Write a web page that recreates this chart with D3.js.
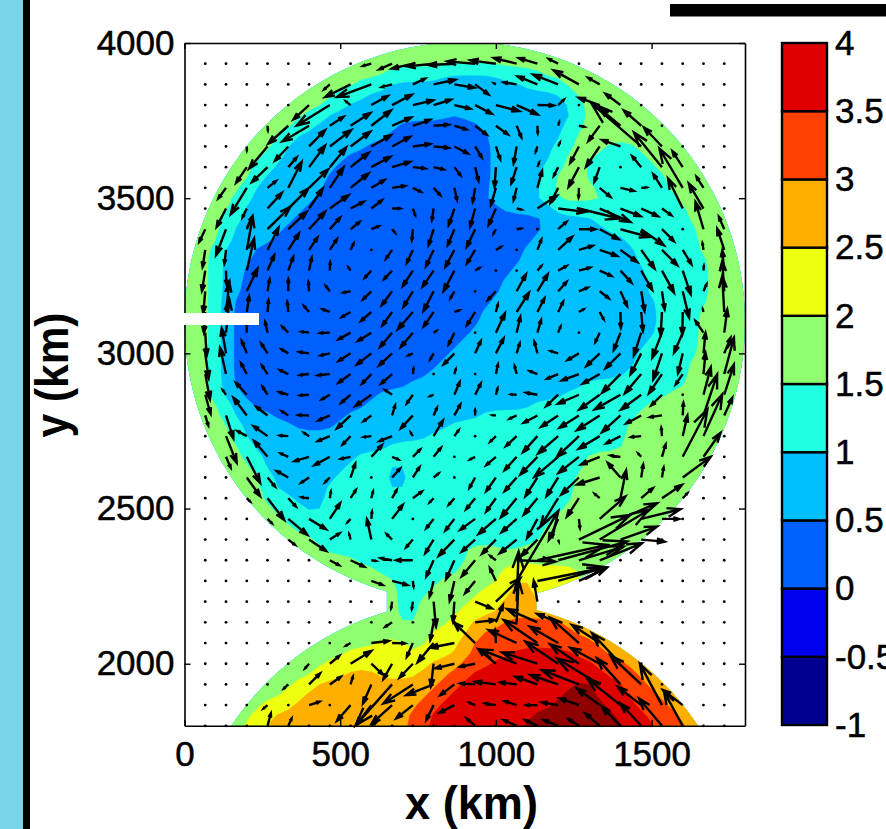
<!DOCTYPE html>
<html>
<head>
<meta charset="utf-8">
<script src="https://cdn.jsdelivr.net/npm/d3@7"></script>
<style>
  html, body { margin: 0; padding: 0; background: #fff; overflow: hidden; }
  text { font-family: "Liberation Sans", Arial, sans-serif; fill: #000; }
</style>
</head>
<body>
<div id="chart"></div>
<script>
const width = 886, height = 829;

// contour levels and their colours (last one is above the top level)
const levels = [-1, -0.5, 0, 0.5, 1, 1.5, 2, 2.5, 3, 3.5, 4];
const levelColors = ["#00008f", "#0000ef", "#0060ff", "#00bfff", "#20ffdf", "#8fff70", "#efff10", "#ffaf00", "#ff4000", "#df0000", "#8f0000"];
const xTicks = [0, 500, 1000, 1500];
const yTicks = [2000, 2500, 3000, 3500, 4000];

// basin: two circles [x km, y km, radius km] joined by a strait [x0, x1, y0, y1]
const basinCircles = [[900, 3100, 900], [900, 1300, 900]];
const strait = [650, 1130, 2100, 2300];

// band index per row (33.3 km spacing), as runs: band, end column, band, end column ... last band
// band b means a value of 0.25 + 0.5 * b
const bandRuns = [
  [3], [3], [3],
  [3,20,2,25,1,31,2,35,3],
  [3,17,2,20,1,33,2,37,3],
  [3,15,2,18,1,37,2,38,3],
  [3,14,2,16,1,38,2,39,3],
  [3,12,2,14,1,26,0,27,1,38,2,39,3],
  [3,11,2,13,1,21,0,29,1,37,2,39,3],
  [3,10,2,11,1,20,0,30,1,37,2,38,3],
  [3,9,2,10,1,18,0,30,1,36,2,38,3,41,2,44,3],
  [3,8,2,10,1,16,0,30,1,36,2,37,3,40,2,45,3],
  [3,7,2,9,1,15,0,30,1,35,2,37,3,39,2,46,3],
  [3,7,2,8,1,14,0,30,1,35,2,36,3,39,2,47,3],
  [3,6,2,7,1,14,0,30,1,35,2,36,3,40,2,47,3],
  [3,5,2,7,1,13,0,29,1,34,2,36,3,42,2,48,3],
  [3,5,2,6,1,12,0,31,1,36,2,49,3],
  [3,4,2,6,1,11,0,36,1,40,2,49,3],
  [3,4,2,5,1,10,0,35,1,41,2,50,3],
  [3,4,2,5,1,9,0,34,1,43,2,50,3],
  [3,3,2,4,1,7,0,33,1,44,2,50,3],
  [3,3,2,4,1,7,0,33,1,44,2,51,3],
  [3,3,2,4,1,6,0,32,1,45,2,51,3],
  [3,3,2,4,1,6,0,31,1,45,2,51,3],
  [3,3,2,4,1,6,0,31,1,45,2,51,3],
  [3,3,2,4,1,5,0,30,1,46,2,51,3],
  [3,3,2,4,1,5,0,29,1,46,2,50,3],
  [3,3,2,4,1,5,0,29,1,46,2,50,3],
  [3,3,2,4,1,5,0,28,1,46,2,50,3],
  [3,3,2,4,1,5,0,27,1,45,2,50,3],
  [3,3,2,4,1,5,0,26,1,44,2,50,3],
  [3,3,2,4,1,5,0,25,1,44,2,49,3],
  [3,3,2,4,1,5,0,24,1,43,2,49,3],
  [3,3,2,4,1,5,0,22,1,39,2,49,3],
  [3,3,2,4,1,6,0,19,1,37,2,47,3],
  [3,4,2,5,1,7,0,18,1,34,2,45,3],
  [3,4,2,5,1,9,0,16,1,29,2,44,3],
  [3,5,2,6,1,11,0,15,1,26,2,43,3],
  [3,5,2,6,1,24,2,43,3],
  [3,6,2,7,1,20,2,43,3],
  [3,6,2,8,1,17,2,39,3],
  [3,7,2,8,1,16,2,20,1,22,2,39,3],
  [3,8,2,9,1,15,2,20,1,22,2,38,3],
  [3,8,2,9,1,14,2,20,1,22,2,38,3],
  [3,8,2,11,1,14,2,38,3],
  [3,9,2,12,1,14,2,37,3],
  [3,10,2,36,3],
  [3,11,2,35,3],
  [3,13,2,35,3],
  [3,14,2,27,3,31,2,33,3],
  [3,17,2,28,3,32,4,33,3],
  [3,19,2,27,3,31,4,39,3],
  [3,21,2,25,3,31,4,32,5,34,4,38,3],
  [3,21,2,24,3,29,4,32,5,34,4],
  [3,21,2,23,3,28,4,31,5,34,4],
  [3,21,2,23,3,27,4,31,5],
  [3,21,2,23,3,26,4,28,5,31,6,37,5],
  [3,24,4,28,5,29,6,38,5],
  [3,19,4,22,3,24,4,27,5,28,6,40,5],
  [3,16,4,22,3,23,4,27,5,28,6,32,7,38,6,41,5],
  [3,14,4,24,5,27,6,30,7,40,6,43,5],
  [3,13,4,16,5,19,4,23,5,26,6,28,7,41,6,44,5],
  [3,11,4,13,5,25,6,27,7,38,8,40,7,43,6,45,5],
  [3,10,4,12,5,24,6,26,7,37,8,40,7,43,6,46,5],
  [3,8,4,11,5,23,6,25,7,36,8,41,7,44,6,47,5],
  [3,7,4,9,5,22,6,24,7,34,8,42,7,45,6,48,5],
  [3,6,4,8,5,22,6,24,7,33,8,43,7,46,6,49,5]
];
const bandCols = 55;
const bandStep = 100 / 3;

// velocity per row of the 66.7 km grid, as triplets: column, east, south.
// any grid point not listed has no flow and shows as a dot
const flowRows = [
  [8,-25,7, 9,-39,17, 10,-63,15, 11,-80,8, 12,-77,4, 13,-84,-7, 14,-77,-10, 15,-69,-17, 16,-56,-17, 17,-28,-14],
  [6,-17,15, 7,-76,38, 8,-103,38, 9,-31,8, 10,37,-17, 11,65,-14, 12,60,10, 13,40,30, 14,-5,-3, 15,-39,-6, 16,-59,-24, 17,-75,-29, 18,-76,-42, 19,-35,-20],
  [5,-47,43, 6,-99,61, 7,-14,-11, 8,49,-27, 9,59,-31, 10,60,-14, 11,52,-16, 12,48,11, 13,50,26, 14,70,18, 15,63,28, 16,49,1, 17,17,-16, 19,-63,-22, 20,-45,-34],
  [3,1,14, 4,-60,54, 5,-80,47, 6,41,-27, 7,59,-38, 8,59,-46, 9,57,-25, 10,52,-18, 11,45,-3, 12,36,11, 13,35,27, 14,36,26, 15,14,34, 16,1,22, 17,3,-11, 18,16,3, 19,-34,46, 20,-60,-50, 21,-52,-46],
  [2,0,12, 3,-55,66, 4,-40,43, 5,48,-49, 6,64,-49, 7,59,-44, 8,59,-34, 9,54,-29, 10,52,-7, 11,45,4, 12,40,21, 13,20,33, 14,13,39, 15,-9,51, 16,-5,16, 17,5,-11, 18,-26,49, 19,-41,61, 20,-55,-19, 21,-150,-130, 22,-54,-57],
  [2,-32,47, 3,-47,45, 4,25,-29, 5,48,-65, 6,49,-59, 7,54,-43, 8,57,-31, 9,54,-16, 10,37,4, 11,30,7, 12,18,24, 13,10,41, 14,-4,59, 15,-16,49, 16,5,-13, 17,-13,26, 18,-31,59, 19,-16,44, 21,-27,-33, 22,-84,-104, 23,-31,-48],
  [1,-23,32, 2,-48,79, 3,25,-20, 4,40,-78, 5,57,-55, 6,41,-61, 7,54,-43, 8,39,-23, 9,39,-6, 10,24,12, 11,20,22, 12,8,37, 13,-7,42, 14,-15,52, 15,-9,37, 16,14,-51, 17,-23,45, 18,-1,29, 19,32,27, 20,40,9, 21,16,-1, 22,-26,-41, 23,-70,-118, 24,-21,-33],
  [1,-28,55, 2,-13,27, 3,43,-47, 4,60,-60, 5,41,-60, 6,56,-40, 7,39,-20, 8,32,-25, 9,24,0, 10,7,20, 11,-5,35, 12,-17,50, 13,-15,55, 14,-22,50, 15,14,3, 16,58,-38, 17,82,10, 18,120,30, 19,92,40, 20,60,23, 21,50,23, 22,28,20, 23,-44,-90, 24,-44,-75],
  [0,-18,38, 1,-30,78, 2,15,-37, 3,68,-67, 4,55,-52, 5,48,-52, 6,31,-35, 7,27,-22, 8,22,-9, 9,9,11, 10,-3,33, 11,-15,48, 12,-20,48, 13,-25,53, 14,-7,13, 15,13,-2, 17,25,-22, 18,49,0, 19,57,30, 20,85,23, 21,68,48, 22,36,36, 24,-24,-82, 25,-16,-37],
  [0,-8,51, 1,-5,41, 2,18,-99, 3,33,-67, 4,32,-49, 5,25,-37, 6,21,-32, 7,9,-19, 9,-18,26, 10,-18,39, 11,-23,49, 12,-27,51, 13,-25,41, 14,15,-9, 16,12,-31, 17,42,-39, 18,41,-12, 19,52,18, 20,50,36, 21,40,56, 22,46,46, 23,26,43, 24,-3,-20, 25,-21,-64],
  [0,-10,61, 1,1,40, 2,22,-96, 3,20,-46, 4,15,-41, 5,8,-39, 6,1,-25, 7,-6,-9, 8,-20,22, 9,-24,26, 10,-30,46, 11,-33,48, 12,-32,61, 13,13,-8, 16,12,-14, 17,25,-14, 18,34,-9, 19,35,16, 20,33,36, 21,33,58, 22,36,66, 23,24,71, 24,1,-14, 25,-6,-60],
  [0,-6,64, 1,10,-30, 2,32,-68, 3,6,-36, 4,0,-36, 5,-2,-28, 6,-12,-16, 7,-21,4, 8,-25,24, 9,-31,42, 10,-28,46, 11,-30,59, 12,-12,21, 14,-24,26, 15,28,-51, 16,31,-51, 17,25,-28, 18,26,-11, 19,27,21, 20,20,44, 21,10,59, 22,8,54, 23,19,79, 24,9,-21, 25,-6,-90],
  [0,-4,62, 1,10,-88, 2,7,-48, 3,3,-35, 4,-3,-30, 5,-15,-18, 6,-21,-8, 7,-26,15, 8,-31,27, 9,-29,40, 10,-45,52, 11,-30,44, 12,15,-5, 13,-25,40, 14,6,-23, 15,37,-58, 16,21,-41, 17,15,-31, 18,14,-8, 19,12,22, 20,1,47, 21,5,57, 22,-4,70, 23,-1,67, 24,-2,-8, 25,-6,-108],
  [0,4,70, 1,10,-100, 2,0,-30, 3,-7,-32, 4,-18,-18, 5,-22,-3, 6,-29,1, 7,-36,20, 8,-40,25, 9,-36,43, 10,-36,43, 11,8,-5, 12,-17,35, 14,27,-58, 15,11,-48, 16,11,-38, 17,7,-18, 19,-13,28, 20,-20,52, 21,-22,68, 22,-29,75, 23,-26,60, 24,-24,-35, 25,9,-70],
  [0,10,75, 1,-13,-75, 2,-15,-37, 3,-19,-30, 4,-20,-12, 5,-29,-4, 6,-27,6, 7,-36,23, 8,-43,33, 9,-39,36, 10,-13,6, 11,-10,18, 12,-32,33, 13,17,-37, 14,23,-45, 15,9,-30, 16,-9,-35, 17,-23,-7, 18,-34,20, 19,-40,38, 20,-45,45, 21,-32,63, 22,-26,78, 23,-14,60, 24,6,-62, 25,19,-47],
  [0,14,76, 1,-18,-79, 2,-17,-32, 3,-17,-26, 4,-25,-12, 5,-27,3, 6,-36,4, 7,-36,26, 8,-28,29, 9,-33,29, 10,2,-16, 12,4,-14, 14,6,-29, 15,-6,-24, 16,-23,-9, 17,-33,14, 18,-51,19, 19,-51,29, 20,-55,56, 21,-49,58, 22,-39,58, 23,-21,31, 24,6,-64, 25,29,-109],
  [0,16,57, 1,-10,-14, 2,-33,-36, 3,-15,-24, 4,-27,-8, 5,-27,2, 6,-24,14, 7,-28,24, 8,-48,34, 9,-21,-14, 10,-18,26, 11,-10,4, 12,16,-38, 13,17,-34, 14,5,-19, 15,-17,-1, 16,-34,-6, 17,-36,34, 18,-63,27, 19,-61,44, 20,-77,44, 21,-60,44, 22,-32,32, 24,22,-83, 25,29,-91],
  [0,9,30, 1,22,69, 2,-40,-53, 3,-34,-26, 4,-20,-13, 5,-32,-1, 6,-34,15, 7,-41,39, 8,-23,17, 9,9,-30, 10,-36,39, 11,10,-23, 12,18,-33, 13,0,-16, 14,-10,-1, 15,-21,10, 16,-41,22, 17,-51,34, 18,-58,37, 19,-68,44, 20,-55,50, 21,-45,24, 22,-36,5, 23,2,-38, 24,41,-123, 25,24,-53],
  [1,32,80, 2,-28,-15, 3,-42,-30, 4,-25,-2, 5,-15,-10, 6,-36,15, 7,-24,25, 8,-23,3, 9,-38,15, 10,-6,-10, 11,28,-47, 12,13,-18, 14,-17,17, 15,-32,30, 16,-43,48, 17,-60,52, 18,-66,62, 19,-63,38, 20,-43,22, 21,-30,3, 22,-2,-25, 23,14,-62, 24,56,-125],
  [1,14,33, 2,40,78, 3,-40,-47, 4,-23,-10, 5,-44,13, 6,-46,25, 7,-29,6, 8,32,-35, 9,19,8, 10,22,-22, 11,22,-27, 13,-15,8, 14,-29,25, 15,-36,40, 16,-51,53, 17,-71,60, 18,-61,48, 19,-56,23, 20,-30,-4, 21,-9,-10, 22,11,-37, 23,74,-142, 24,51,-72],
  [2,40,56, 3,23,28, 4,-35,-19, 5,-24,16, 6,-14,14, 7,14,-42, 9,24,-27, 10,20,-31, 11,15,-12, 13,-17,31, 14,-29,41, 15,-36,41, 16,-36,56, 17,-35,56, 18,-53,51, 19,-68,21, 20,-38,-44, 21,6,-39, 22,5,-30, 23,84,-62],
  [2,10,10, 3,50,65, 4,23,25, 5,-22,-3, 6,3,-20, 7,16,-25, 8,5,-20, 9,14,-25, 10,27,-20, 11,-12,13, 12,-17,20, 13,-27,33, 14,-29,40, 15,-47,57, 16,-41,50, 17,-53,85, 18,-36,55, 19,-15,-13, 20,17,-84, 21,35,-30, 22,60,-40, 23,14,-15],
  [3,13,13, 4,57,48, 5,51,31, 6,31,-47, 7,-9,10, 8,2,-22, 9,32,-42, 11,-22,28, 12,-27,35, 13,-45,33, 14,-52,45, 15,-45,40, 16,-31,58, 17,-28,63, 18,3,28, 19,77,-67, 20,110,-47, 21,118,-29, 22,51,0],
  [4,20,16, 5,51,34, 6,29,-19, 7,-4,-16, 8,-13,-61, 9,-16,-16, 10,-20,23, 11,-25,41, 12,-47,49, 13,-40,36, 14,-42,43, 15,-51,41, 16,-48,49, 17,2,6, 18,154,-74, 19,147,-89, 20,110,-39, 21,70,6],
  [6,28,15, 7,41,19, 8,14,2, 9,-34,-6, 10,-50,0, 11,-22,49, 12,-25,57, 13,-40,48, 14,-17,-13, 15,116,4, 16,209,-46, 17,207,-56, 18,134,-41, 19,127,-51],
  [8,34,12, 9,46,12, 10,2,17, 11,-12,47, 12,-14,60, 13,-30,37, 14,-18,-38, 15,125,-210, 16,207,-41, 17,132,-38, 18,82,-38],
  [9,-3,20, 10,-3,22, 11,7,75, 12,-4,60, 13,50,20, 14,73,-70, 15,6,-150, 16,-11,-63],
  [9,-20,13, 11,-10,53, 13,60,-7, 14,21,-52, 15,6,-127, 16,-91,-40, 17,-63,-25],
  [7,-14,8, 8,52,-6, 9,39,1, 10,-18,41, 11,-48,58, 12,-72,14, 13,-64,-62, 14,-2,-39, 15,-84,-39, 16,-101,-69, 17,-85,-49, 18,-86,-76, 19,-83,-54],
  [5,-12,14, 6,29,-24, 7,62,-38, 8,34,32, 9,-26,46, 10,-40,42, 11,-8,68, 12,-57,14, 13,-45,9, 14,-52,-43, 15,-109,-43, 16,-106,-34, 17,-98,-66, 18,-86,-58, 19,-88,-48, 20,-85,-91],
  [4,-13,12, 5,33,-33, 6,33,-23, 7,7,-23, 8,-25,57, 9,-109,122, 10,-88,57, 11,-82,32, 12,-42,32, 13,-45,-3, 14,-62,-8, 15,-49,-6, 16,-66,-23, 17,-83,-28, 18,-111,-43, 19,-128,-78, 20,-70,-78, 21,-92,-86],
  [3,-12,10, 5,31,-10, 7,-41,47, 8,-46,60, 9,-61,55, 10,-50,40, 11,-22,45, 12,-44,23, 13,-17,-7, 14,-32,-5, 15,-36,-12, 16,-33,0, 17,-48,-8, 18,-58,-20, 19,-68,-50, 20,-100,-80, 21,-70,-55, 22,-66,-123, 23,-59,-45],
  [3,10,-37, 4,10,-22, 8,12,-7, 13,-25,-22, 15,-39,-17, 16,-36,-17, 17,-43,-17, 18,-31,-20, 19,-43,-37, 20,-55,-57, 21,-62,-67, 22,-69,-82, 23,-56,-102]
];
const flowStep = 200 / 3;
const flowCols = 26;

const margin = { left: 184.5, right: 745, top: 43, bottom: 725.8 };

const svg = d3.select("#chart").append("svg")
    .attr("width", width)
    .attr("height", height)
    .style("display", "block");

const x = d3.scaleLinear().domain([0, 1800]).range([margin.left, margin.right]);
const y = d3.scaleLinear().domain([1800, 4000]).range([margin.bottom, margin.top]);
const arrowLen = d3.scaleLinear().domain([0, 3]).range([0, 1]);   // flow units to pixels

// page furniture around the figure
svg.append("rect").attr("x", 0).attr("y", 0).attr("width", 23).attr("height", height).attr("fill", "#7bd5ea");
svg.append("rect").attr("x", 23).attr("y", 0).attr("width", 7).attr("height", height).attr("fill", "#000");
svg.append("rect").attr("x", 670).attr("y", 4).attr("width", 216).attr("height", 12.5).attr("fill", "#000");

// clip to the basin shape
const defs = svg.append("defs");
const basinClip = defs.append("clipPath").attr("id", "basin");
basinCircles.forEach(c => {
    basinClip.append("circle")
        .attr("cx", x(c[0]))
        .attr("cy", y(c[1]))
        .attr("r", x(c[2]) - x(0));
});
basinClip.append("rect")
    .attr("x", x(strait[0]))
    .attr("y", y(strait[3]))
    .attr("width", x(strait[1]) - x(strait[0]))
    .attr("height", y(strait[2]) - y(strait[3]));
defs.append("clipPath").attr("id", "plotArea").append("rect")
    .attr("x", margin.left).attr("y", margin.top)
    .attr("width", margin.right - margin.left)
    .attr("height", margin.bottom - margin.top);

// expand the runs into a value grid
const values = [];
bandRuns.forEach(run => {
    let col = 0;
    for (let i = 0; i < run.length; i += 2) {
        const end = i + 1 < run.length ? run[i + 1] : bandCols;
        for (; col < end; col++) values.push(0.25 + 0.5 * run[i]);
    }
});
const bandRowCount = bandRuns.length;

// take the stairs off the hand read bands
if (d3.blur2) d3.blur2({ data: values, width: bandCols }, 0.2);

const contours = d3.contours()
    .size([bandCols, bandRowCount])
    .smooth(true)
    .thresholds(levels.slice(2))(values);

// contour coordinates are in grid cells, with values at cell centres
const toPixels = d3.geoTransform({
    point: function(cx, cy) {
        this.stream.point(x((cx - 0.5) * bandStep), y(4000 - (cy - 0.5) * bandStep));
    }
});
const contourPath = d3.geoPath(toPixels);
const colorOf = d3.scaleThreshold().domain(levels.slice(1)).range(levelColors);

svg.append("g").attr("clip-path", "url(#plotArea)")
    .append("g").attr("clip-path", "url(#basin)")
    .selectAll("path")
    .data(contours)
    .enter().append("path")
    .attr("d", contourPath)
    .attr("fill", d => colorOf(d.value))
    .attr("stroke", d => colorOf(d.value))
    .attr("stroke-width", 0.4);

// flow arrows
const arrows = [];
flowRows.forEach((row, r) => {
    const found = new Map();
    for (let i = 0; i < row.length; i += 3) found.set(row[i], [row[i + 1], row[i + 2]]);
    for (let k = 0; k < flowCols; k++) {
        const f = found.get(k) || [0, 0];
        arrows.push({ xKm: (k + 1) * flowStep, yKm: 4000 - (r + 1) * flowStep, east: f[0], south: f[1] });
    }
});

function arrowPath(d) {
    const x0 = x(d.xKm), y0 = y(d.yKm);
    const dx = arrowLen(d.east), dy = arrowLen(d.south);
    const x1 = x0 + dx, y1 = y0 + dy;
    // barbs like a matlab quiver
    const a = 0.33, b = 0.33;
    const p = d3.path();
    p.moveTo(x0, y0);
    p.lineTo(x1, y1);
    p.moveTo(x1 - a * (dx + b * dy), y1 - a * (dy - b * dx));
    p.lineTo(x1, y1);
    p.lineTo(x1 - a * (dx - b * dy), y1 - a * (dy + b * dx));
    return p.toString();
}

svg.append("g").selectAll("path")
    .data(arrows.filter(d => d.east !== 0 || d.south !== 0))
    .enter().append("path")
    .attr("d", arrowPath)
    .attr("fill", "none")
    .attr("stroke", "#000")
    .attr("stroke-width", 2.4);

svg.append("g").selectAll("circle")
    .data(arrows.filter(d => d.east === 0 && d.south === 0))
    .enter().append("circle")
    .attr("cx", d => x(d.xKm))
    .attr("cy", d => y(d.yKm))
    .attr("r", 1.4)
    .attr("fill", "#000");

// axes box, ticks point inward on all four sides
function styleAxis(g, fontSize) {
    g.selectAll(".domain").attr("stroke", "#000").attr("stroke-width", 1.6);
    g.selectAll(".tick line").attr("stroke", "#000").attr("stroke-width", 1.4);
    g.selectAll("text")
        .attr("font-size", fontSize)
        .attr("font-family", "Liberation Sans, Arial, sans-serif")
        .attr("stroke", "#000")
        .attr("stroke-width", 0.5);
}

const tickLen = -6;
const tickFont = 35;
svg.append("g").attr("transform", `translate(0,${margin.bottom})`)
    .call(d3.axisBottom(x).tickValues(xTicks).tickSizeInner(tickLen).tickSizeOuter(0).tickPadding(15).tickFormat(String))
    .call(styleAxis, tickFont);
svg.append("g").attr("transform", `translate(0,${margin.top})`)
    .call(d3.axisTop(x).tickValues(xTicks).tickSizeInner(tickLen).tickSizeOuter(0).tickFormat(""))
    .call(styleAxis, tickFont);
svg.append("g").attr("transform", `translate(${margin.left},0)`)
    .call(d3.axisLeft(y).tickValues(yTicks).tickSizeInner(tickLen).tickSizeOuter(0).tickPadding(10).tickFormat(String))
    .call(styleAxis, tickFont);
svg.append("g").attr("transform", `translate(${margin.right},0)`)
    .call(d3.axisRight(y).tickValues(yTicks).tickSizeInner(tickLen).tickSizeOuter(0).tickFormat(""))
    .call(styleAxis, tickFont);

svg.append("text")
    .attr("x", 471.5).attr("y", 819)
    .attr("text-anchor", "middle")
    .attr("font-size", 46).attr("font-weight", "bold")
    .attr("textLength", 133).attr("lengthAdjust", "spacingAndGlyphs")
    .text("x (km)");
svg.append("text")
    .attr("transform", "translate(68,375) rotate(-90)")
    .attr("text-anchor", "middle")
    .attr("font-size", 46).attr("font-weight", "bold")
    .attr("textLength", 125).attr("lengthAdjust", "spacingAndGlyphs")
    .text("y (km)");

// white bar drawn over the figure
svg.append("rect").attr("x", 183).attr("y", 313).attr("width", 76).attr("height", 12).attr("fill", "#fff");

// colour bar
const barX0 = 782, barX1 = 827;
const barScale = d3.scaleLinear().domain([-1, 4]).range([margin.bottom - 0.8, margin.top]);
const bar = svg.append("g");
bar.selectAll("rect")
    .data(d3.pairs(levels))
    .enter().append("rect")
    .attr("x", barX0)
    .attr("width", barX1 - barX0)
    .attr("y", d => barScale(d[1]))
    .attr("height", d => barScale(d[0]) - barScale(d[1]))
    .attr("fill", (d, i) => levelColors[i])
    .attr("stroke", "#000")
    .attr("stroke-width", 2.4);

svg.append("g").attr("transform", `translate(${barX1},0)`)
    .call(d3.axisRight(barScale).tickValues(levels).tickSize(0).tickPadding(8).tickFormat(String))
    .call(g => g.select(".domain").remove())
    .call(styleAxis, tickFont);
</script>
</body>
</html>
